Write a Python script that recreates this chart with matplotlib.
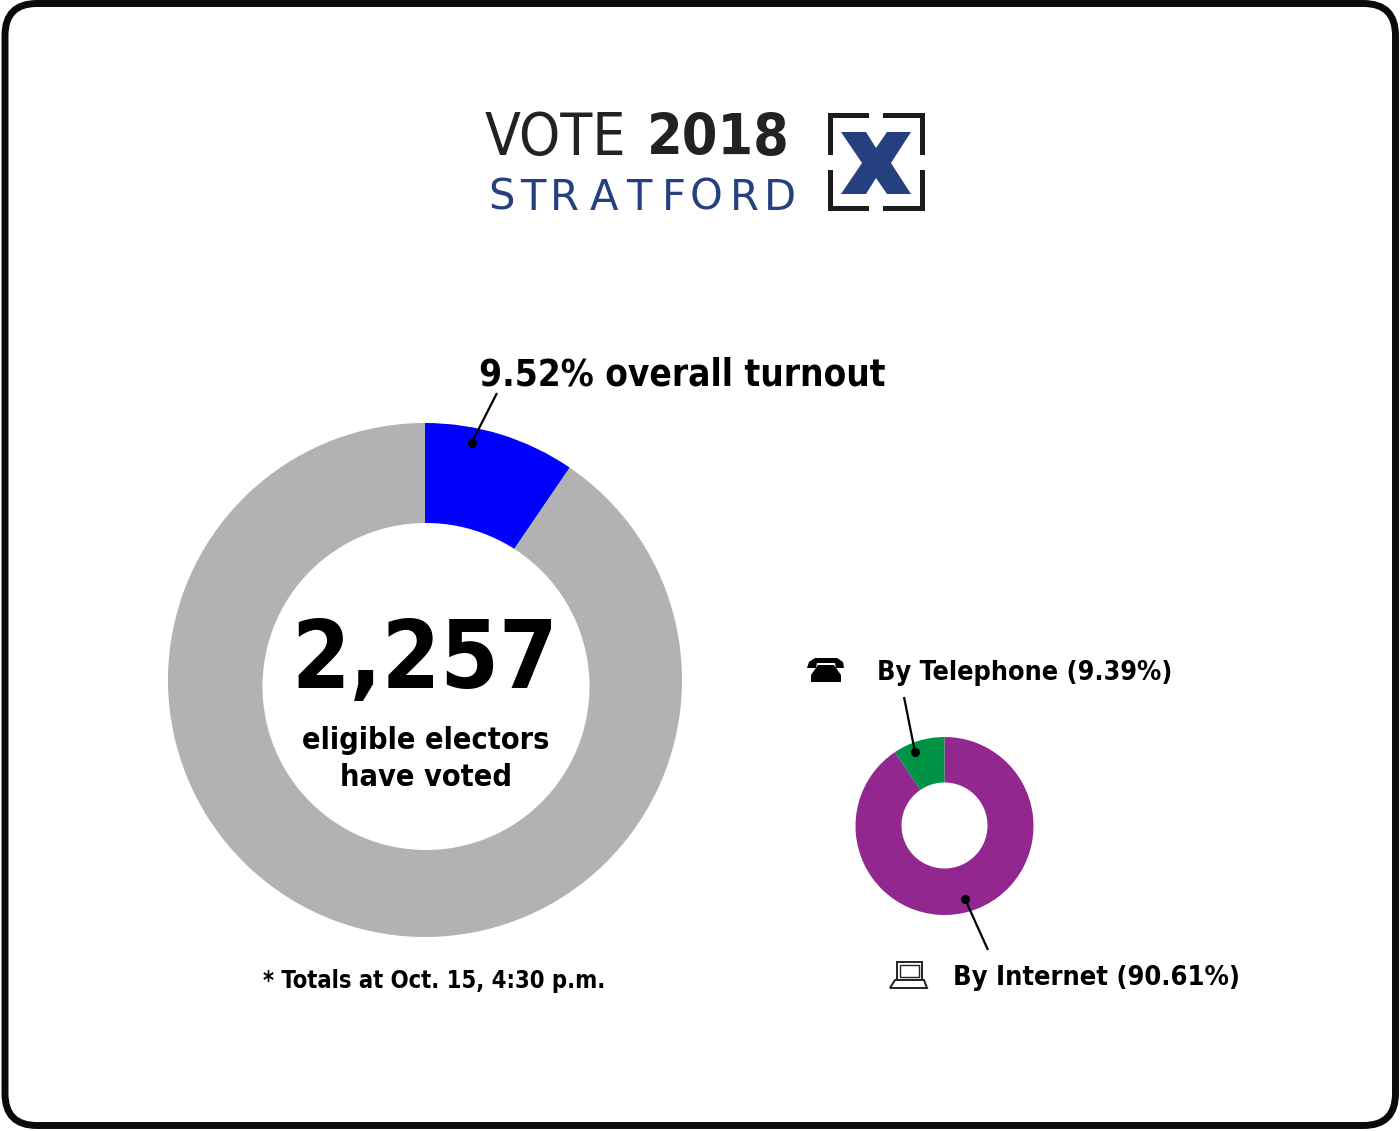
import matplotlib
matplotlib.use("Agg")
import matplotlib.pyplot as plt
from matplotlib.patches import Circle, FancyBboxPatch, Rectangle, Polygon

W = 1400
H = 1131

turnout_vals = [9.52, 90.48]
turnout_colors = ["#0000ff", "#b2b2b2"]
method_vals = [90.61, 9.39]
method_colors = ["#92278f", "#009245"]

title_top = "VOTE"
title_year = "2018"
title_town = "STRATFORD"
turnout_label = "9.52% overall turnout"
count_label = "2,257"
count_sub = ["eligible electors", "have voted"]
note_label = "* Totals at Oct. 15, 4:30 p.m."
phone_label = "By Telephone (9.39%)"
internet_label = "By Internet (90.61%)"

NAVY = "#25407f"
DARK = "#222222"

fig = plt.figure(figsize=(W / 100, H / 100), dpi=100)
bg = fig.add_axes([0, 0, 1, 1])
bg.set_xlim(0, W)
bg.set_ylim(H, 0)
bg.axis("off")

# rounded frame
bg.add_patch(FancyBboxPatch((5, 3.5), W - 9.5, H - 9, boxstyle="round,pad=0,rounding_size=32",
                            fc="white", ec="#0a0a0a", lw=5))


def donut(cx, cy, r, vals, colors, start, counter):
    ax = fig.add_axes([(cx - r) / W, 1 - (cy + r) / H, 2 * r / W, 2 * r / H])
    ax.pie(vals, colors=colors, startangle=start, counterclock=counter, radius=1,
           wedgeprops={"linewidth": 0})
    ax.set_xlim(-1, 1)
    ax.set_ylim(-1, 1)
    ax.patch.set_alpha(0)


donut(425, 680, 257, turnout_vals, turnout_colors, 90, False)
donut(944.5, 826, 89, method_vals, method_colors, 90, False)

# overlay for text and leader lines, above the pies
top = fig.add_axes([0, 0, 1, 1], zorder=5)
top.set_xlim(0, W)
top.set_ylim(H, 0)
top.axis("off")
top.patch.set_alpha(0)

# holes, the big one sits a bit low
top.add_patch(Circle((426, 686.5), 163.5, fc="white", ec="none"))
top.add_patch(Circle((944.5, 825.5), 43, fc="white", ec="none"))

# logo
lite = dict(family="DejaVu Sans", stretch="condensed")
txt = dict(family="DejaVu Sans", stretch="condensed", weight="bold", color="black")
top.text(485, 155, title_top, fontsize=42, color=DARK, va="baseline", ha="left", **lite)
top.text(790, 155, title_year, family="DejaVu Sans", stretch="condensed", weight="bold", fontsize=41,
         color=DARK, va="baseline", ha="right")
town_x = [488, 520, 550, 590, 626, 662, 690, 730, 764]
for x, ch in zip(town_x, title_town):
    top.text(x, 210, ch, family="DejaVu Sans", fontsize=30, color=NAVY, va="baseline", ha="left")

# brackets around the X
for xy, w, h in [((828, 113), 41, 5), ((828, 113), 5, 42), ((883, 113), 41, 5), ((920, 113), 5, 42),
                 ((828, 206), 41, 5), ((828, 170), 5, 41), ((883, 206), 41, 5), ((920, 170), 5, 41)]:
    top.add_patch(Rectangle(xy, w, h, fc="#1c1c1c", ec="none"))
top.add_patch(Polygon([(841, 132), (866, 132), (876, 148), (887, 132), (911, 132), (891, 163), (911, 194),
                       (887, 194), (876, 178), (866, 194), (841, 194), (862, 163)],
                      fc=NAVY, ec="none"))

# big donut labels
top.text(479, 385, turnout_label, fontsize=26.5, va="baseline", ha="left", **txt)
top.text(425, 688, count_label, fontsize=67.5, va="baseline", ha="center", **txt)
top.text(426, 749, count_sub[0], fontsize=22, va="baseline", ha="center", **txt)
top.text(426, 786, count_sub[1], fontsize=22, va="baseline", ha="center", **txt)
top.text(263, 988, note_label, fontsize=17, va="baseline", ha="left", **txt)

# small donut labels
top.text(877, 680, phone_label, fontsize=19.4, va="baseline", ha="left", **txt)
top.text(953, 985, internet_label, fontsize=19.5, va="baseline", ha="left", **txt)

# leader lines
for (x0, y0), (x1, y1) in [((497, 393), (471.5, 443)), ((904, 697), (915, 752)), ((988, 950), (965, 899))]:
    top.plot([x0, x1], [y0, y1], color="black", lw=1.6, solid_capstyle="butt")
    top.plot([x1], [y1], "o", color="black", ms=5.5)

# phone icon
top.add_patch(Polygon([(807, 668), (809, 662), (815, 658), (837, 658), (843, 662), (844, 668), (836, 668),
                       (835, 663), (817, 663), (816, 668)], fc="black", ec="none"))
top.add_patch(Polygon([(818, 665), (834, 665), (841, 675), (841, 682), (811, 682), (811, 675)], fc="black", ec="none"))

# laptop icon
top.add_patch(Rectangle((897, 962), 25, 18, fc="white", ec="#222222", lw=1.4))
top.add_patch(Rectangle((900, 965), 19, 12, fc="white", ec="#222222", lw=1.0))
top.add_patch(Polygon([(895, 980), (924, 980), (927, 988), (890, 988)], fc="white", ec="#222222", lw=1.4))

fig.savefig("out.png", dpi=100, facecolor="white")
